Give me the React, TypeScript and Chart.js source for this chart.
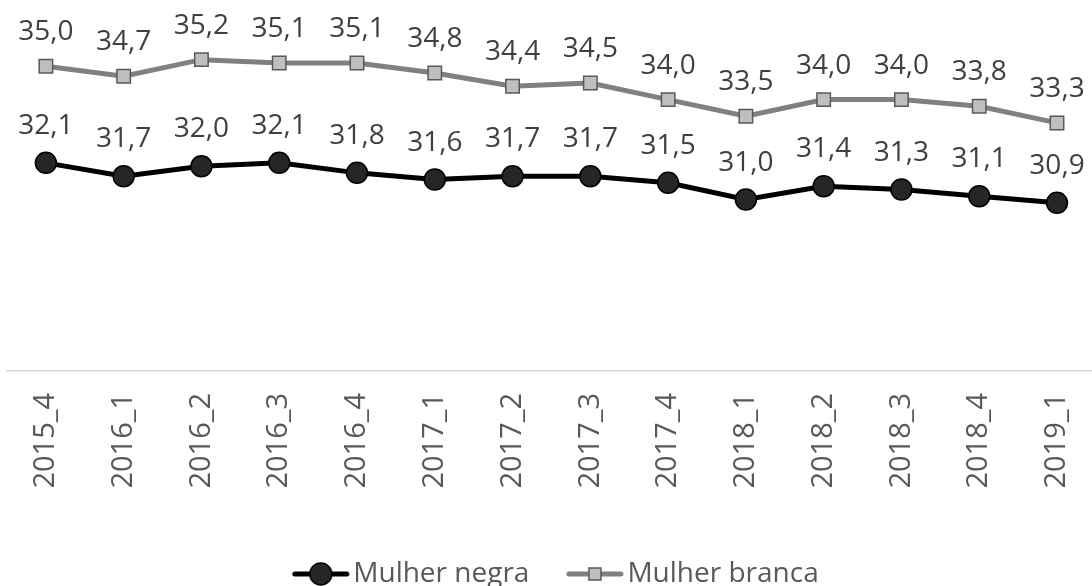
import React, { useEffect, useRef } from "react";
import { Chart, registerables } from "chart.js";

Chart.register(...registerables);

const categories = [
  "2015_4", "2016_1", "2016_2", "2016_3", "2016_4", "2017_1", "2017_2",
  "2017_3", "2017_4", "2018_1", "2018_2", "2018_3", "2018_4", "2019_1",
];
const mulherNegra = [32.1, 31.7, 32.0, 32.1, 31.8, 31.6, 31.7, 31.7, 31.5, 31.0, 31.4, 31.3, 31.1, 30.9];
const mulherBranca = [35.0, 34.7, 35.2, 35.1, 35.1, 34.8, 34.4, 34.5, 34.0, 33.5, 34.0, 34.0, 33.8, 33.3];
const seriesLabels = ["Mulher negra", "Mulher branca"];

function makeLegendImage(kind: "circle" | "rect"): HTMLCanvasElement {
  const c = document.createElement("canvas");
  c.width = 110;
  c.height = 26;
  const ctx = c.getContext("2d")!;
  ctx.lineCap = "round";
  ctx.lineWidth = 5;
  ctx.strokeStyle = kind === "circle" ? "#000000" : "#808080";
  ctx.beginPath();
  ctx.moveTo(44, 13);
  ctx.lineTo(96, 13);
  ctx.stroke();
  if (kind === "circle") {
    ctx.beginPath();
    ctx.arc(70, 13, 11, 0, Math.PI * 2);
    ctx.fillStyle = "#262626";
    ctx.fill();
    ctx.lineWidth = 1.5;
    ctx.strokeStyle = "#000000";
    ctx.stroke();
  } else {
    ctx.fillStyle = "#bfbfbf";
    ctx.fillRect(64, 7, 12, 12);
    ctx.lineWidth = 1.5;
    ctx.strokeStyle = "#595959";
    ctx.strokeRect(64, 7, 12, 12);
  }
  return c;
}

const dataLabelsPlugin = {
  id: "dataLabels",
  afterDatasetsDraw(chart: any) {
    const ctx = chart.ctx;
    chart.data.datasets.forEach((ds: any, di: number) => {
      const meta = chart.getDatasetMeta(di);
      const off = di === 0 ? 29 : 26;
      ctx.save();
      ctx.font = '28px "Open Sans"';
      ctx.fillStyle = "#404040";
      ctx.textAlign = "center";
      ctx.textBaseline = "alphabetic";
      meta.data.forEach((pt: any, i: number) => {
        const v = ds.data[i].y as number;
        ctx.fillText(v.toFixed(1).replace(".", ","), pt.x, pt.y - off);
      });
      ctx.restore();
    });
  },
};

const legendShiftPlugin = {
  id: "legendShift",
  afterLayout(chart: any) {
    const lg = chart.legend;
    if (!lg) return;
    lg.left -= 4;
    lg.right -= 4;
    lg.top += 6;
    lg.bottom += 6;
  },
};

export default function App() {
  const ref = useRef<HTMLCanvasElement>(null);

  useEffect(() => {
    if (!ref.current) return;
    const legendImgs = [makeLegendImage("circle"), makeLegendImage("rect")];
    const chart = new Chart(ref.current, {
      type: "line",
      data: {
        datasets: [
          {
            label: seriesLabels[0],
            data: mulherNegra.map((v, i) => ({ x: i, y: v })),
            borderColor: "#000000",
            borderWidth: 5,
            pointStyle: "circle",
            pointRadius: 10.5,
            pointHoverRadius: 10.5,
            pointBackgroundColor: "#262626",
            pointBorderColor: "#000000",
            pointBorderWidth: 1.5,
            tension: 0,
            clip: false as any,
          },
          {
            label: seriesLabels[1],
            data: mulherBranca.map((v, i) => ({ x: i, y: v })),
            borderColor: "#808080",
            borderWidth: 5,
            pointStyle: "rect",
            pointRadius: 9.5,
            pointHoverRadius: 9.5,
            pointBackgroundColor: "#bfbfbf",
            pointBorderColor: "#595959",
            pointBorderWidth: 1.5,
            tension: 0,
            clip: false as any,
          },
        ],
      },
      options: {
        responsive: false,
        animation: false,
        layout: { autoPadding: false, padding: { left: 7, right: 0, top: 33, bottom: -6 } },
        plugins: {
          tooltip: { enabled: false },
          legend: {
            position: "bottom",
            labels: {
              usePointStyle: true,
              pointStyleWidth: 67,
              padding: 17,
              color: "#595959",
              font: { family: "Open Sans", size: 28 },
              generateLabels: (c: any) =>
                c.data.datasets.map((ds: any, i: number) => ({
                  text: ds.label,
                  pointStyle: legendImgs[i],
                  fillStyle: "transparent",
                  strokeStyle: "transparent",
                  lineWidth: 0,
                  hidden: false,
                  datasetIndex: i,
                  fontColor: "#595959",
                })),
            },
          },
        },
        scales: {
          x: {
            type: "linear",
            min: -0.5,
            max: 13.45,
            grid: { display: false, drawTicks: false },
            border: { display: true, color: "#d9d9d9", width: 1.5 },
            afterBuildTicks: (s: any) => {
              s.ticks = categories.map((_, i) => ({ value: i }));
            },
            afterFit: (s: any) => {
              s.height = 166;
              s.paddingLeft = 0;
              s.paddingRight = 0;
            },
            ticks: {
              autoSkip: false,
              maxRotation: 90,
              minRotation: 90,
              padding: 22,
              color: "#595959",
              font: { family: "Open Sans", size: 29 },
              callback: (v: any) => categories[Math.round(Number(v))] ?? "",
            },
          },
          y: { display: false, min: 25.85, max: 36 },
        },
      },
      plugins: [dataLabelsPlugin, legendShiftPlugin],
    });
    return () => chart.destroy();
  }, []);

  return (
    <div style={{ position: "fixed", left: 0, top: 0, width: 1092, height: 586, background: "#ffffff" }}>
      <canvas ref={ref} width={1092} height={586} style={{ width: 1092, height: 586 }} />
    </div>
  );
}
